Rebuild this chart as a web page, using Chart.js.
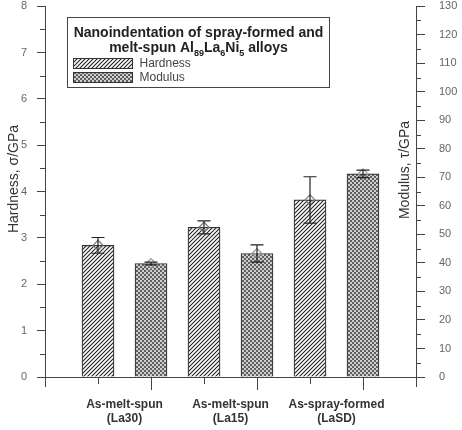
<!DOCTYPE html>
<html>
<head>
<meta charset="utf-8">
<script src="https://cdn.jsdelivr.net/npm/chart.js@4.4.1/dist/chart.umd.min.js"></script>
<style>
  html, body { margin: 0; padding: 0; background: #fff; }
  #wrap { width: 462px; height: 430px; }
</style>
</head>
<body>
<div id="wrap"><canvas id="chart" width="462" height="430"></canvas></div>
<script>
// data
const groups = [['As-melt-spun', '(La30)'], ['As-melt-spun', '(La15)'], ['As-spray-formed', '(LaSD)']];
const groupPos = [1.5, 3.5, 5.5];
const hardnessPos = [1, 3, 5];
const modulusPos = [2, 4, 6];
const hardness = [2.84, 3.23, 3.82];
const hardnessErr = [0.17, 0.14, 0.5];
const modulus = [39.8, 43.3, 71.2];
const modulusErr = [0.5, 3.0, 1.3];

const FONT = "'Liberation Sans', Arial, sans-serif";

function hatchPattern() {
    const c = document.createElement('canvas');
    c.width = 4; c.height = 4;
    const g = c.getContext('2d');
    g.fillStyle = '#fff';
    g.fillRect(0, 0, 4, 4);
    g.strokeStyle = '#222';
    g.lineWidth = 1.1;
    g.beginPath();
    g.moveTo(-1, 5); g.lineTo(5, -1);
    g.moveTo(-1, 1); g.lineTo(1, -1);
    g.moveTo(3, 5); g.lineTo(5, 3);
    g.stroke();
    return g.createPattern(c, 'repeat');
}

function checkPattern() {
    const c = document.createElement('canvas');
    c.width = 4; c.height = 4;
    const g = c.getContext('2d');
    g.fillStyle = '#5e5e5e';
    g.fillRect(0, 0, 4, 4);
    g.fillStyle = '#cfcfcf';
    g.fillRect(0, 0, 2, 2);
    g.fillRect(2, 2, 2, 2);
    return g.createPattern(c, 'repeat');
}

const hatch = hatchPattern();
const check = checkPattern();

const toPts = (xs, ys) => xs.map((x, i) => ({ x: x, y: ys[i] }));

// keep the plot area tight: label padding must not push the top down
function fitY(width) {
    return s => {
        s.width = width;
        s.paddingTop = 6;
        s.paddingBottom = 6;
    };
}

// error bars, minor ticks, x tick marks, axis titles and legend box
const extras = {
    id: 'extras',
    afterDatasetsDraw(chart) {
        const ctx = chart.ctx;
        const x = chart.scales.x, y = chart.scales.y, y2 = chart.scales.y2;
        const area = chart.chartArea;
        ctx.save();
        ctx.strokeStyle = '#222';
        ctx.lineWidth = 1.2;

        function errBar(px, scale, v, e) {
            const top = scale.getPixelForValue(v + e);
            const bot = scale.getPixelForValue(v - e);
            ctx.beginPath();
            ctx.moveTo(px, top); ctx.lineTo(px, bot);
            ctx.moveTo(px - 6.5, top); ctx.lineTo(px + 6.5, top);
            ctx.moveTo(px - 6.5, bot); ctx.lineTo(px + 6.5, bot);
            ctx.stroke();
        }
        hardness.forEach((v, i) => errBar(x.getPixelForValue(hardnessPos[i]), y, v, hardnessErr[i]));
        modulus.forEach((v, i) => errBar(x.getPixelForValue(modulusPos[i]), y2, v, modulusErr[i]));

        // x tick marks under each bar
        ctx.strokeStyle = '#444';
        ctx.lineWidth = 1;
        ctx.beginPath();
        hardnessPos.forEach(p => {
            const px = Math.round(x.getPixelForValue(p)) + 0.5;
            ctx.moveTo(px, area.bottom); ctx.lineTo(px, area.bottom + 7);
        });
        modulusPos.forEach(p => {
            const px = Math.round(x.getPixelForValue(p)) + 0.5;
            ctx.moveTo(px, area.bottom); ctx.lineTo(px, area.bottom + 13);
        });
        // minor ticks
        for (let v = 0.5; v < 8; v += 1) {
            const py = Math.round(y.getPixelForValue(v)) + 0.5;
            ctx.moveTo(area.left, py); ctx.lineTo(area.left - 5, py);
        }
        for (let v = 5; v < 130; v += 10) {
            const py = Math.round(y2.getPixelForValue(v)) + 0.5;
            ctx.moveTo(area.right, py); ctx.lineTo(area.right + 5, py);
        }
        // vertical axes run a little below the x axis
        ctx.moveTo(Math.round(area.left) + 0.5, area.bottom);
        ctx.lineTo(Math.round(area.left) + 0.5, area.bottom + 10);
        ctx.moveTo(Math.round(area.right) + 0.5, area.bottom);
        ctx.lineTo(Math.round(area.right) + 0.5, area.bottom + 10);
        ctx.stroke();

        // axis titles
        ctx.fillStyle = '#333';
        ctx.font = '14px ' + FONT;
        ctx.textAlign = 'center';
        ctx.textBaseline = 'middle';
        ctx.save();
        ctx.translate(14, 179);
        ctx.rotate(-Math.PI / 2);
        ctx.fillText('Hardness, σ/GPa', 0, 0);
        ctx.restore();
        ctx.save();
        ctx.translate(405, 170);
        ctx.rotate(-Math.PI / 2);
        ctx.fillText('Modulus, τ/GPa', 0, 0);
        ctx.restore();

        // legend box
        const bx = 67.5, by = 17.5, bw = 262, bh = 70;
        ctx.fillStyle = '#fff';
        ctx.fillRect(bx, by, bw, bh);
        ctx.strokeStyle = '#444';
        ctx.lineWidth = 1;
        ctx.strokeRect(bx, by, bw, bh);

        ctx.fillStyle = '#222';
        ctx.textBaseline = 'alphabetic';
        ctx.font = 'bold 14px ' + FONT;
        ctx.fillText('Nanoindentation of spray-formed and', bx + bw / 2, by + 19);
        // second line with subscripts
        const parts = [['melt-spun Al', false], ['89', true], ['La', false], ['6', true], ['Ni', false], ['5', true], [' alloys', false]];
        const big = 'bold 14px ' + FONT, small = 'bold 9px ' + FONT;
        let total = 0;
        parts.forEach(p => { ctx.font = p[1] ? small : big; total += ctx.measureText(p[0]).width; });
        let cx = bx + bw / 2 - total / 2;
        ctx.textAlign = 'left';
        parts.forEach(p => {
            ctx.font = p[1] ? small : big;
            ctx.fillText(p[0], cx, by + 34 + (p[1] ? 4 : 0));
            cx += ctx.measureText(p[0]).width;
        });

        // entries
        const ds = chart.data.datasets;
        [[ds[0], by + 41], [ds[1], by + 55]].forEach(([d, ty]) => {
            ctx.fillStyle = d.backgroundColor;
            ctx.fillRect(bx + 6, ty, 59, 10);
            ctx.strokeStyle = '#333';
            ctx.strokeRect(bx + 6, ty, 59, 10);
            ctx.fillStyle = '#444';
            ctx.font = '12px ' + FONT;
            ctx.textBaseline = 'middle';
            ctx.fillText(d.label, bx + 72, ty + 5.5);
            ctx.textBaseline = 'alphabetic';
        });
        ctx.restore();
    }
};

new Chart(document.getElementById('chart'), {
    type: 'bar',
    data: {
        datasets: [
            {
                label: 'Hardness',
                data: toPts(hardnessPos, hardness),
                yAxisID: 'y',
                backgroundColor: hatch,
                borderColor: '#333',
                borderWidth: 1.2,
                barThickness: 32,
                grouped: false,
                order: 2
            },
            {
                label: 'Modulus',
                data: toPts(modulusPos, modulus),
                yAxisID: 'y2',
                backgroundColor: check,
                borderColor: '#333',
                borderWidth: 1.2,
                barThickness: 32,
                grouped: false,
                order: 2
            },
            {
                type: 'line',
                label: 'hardness mean',
                data: toPts(hardnessPos, hardness),
                yAxisID: 'y',
                showLine: false,
                pointStyle: 'rectRot',
                pointRadius: 5,
                pointBackgroundColor: 'rgba(255,255,255,0)',
                pointBorderColor: '#777',
                pointBorderWidth: 1.2,
                order: 1
            },
            {
                type: 'line',
                label: 'modulus mean',
                data: toPts(modulusPos, modulus),
                yAxisID: 'y2',
                showLine: false,
                pointStyle: 'rectRot',
                pointRadius: 5,
                pointBackgroundColor: 'rgba(255,255,255,0)',
                pointBorderColor: '#999',
                pointBorderWidth: 1.2,
                order: 1
            }
        ]
    },
    options: {
        responsive: false,
        animation: false,
        layout: { padding: { top: 0, left: 0, right: 0, bottom: 0 } },
        plugins: {
            legend: { display: false },
            tooltip: { enabled: false }
        },
        scales: {
            x: {
                type: 'linear',
                min: 0,
                max: 7,
                offset: false,
                afterBuildTicks: s => { s.ticks = groupPos.map(v => ({ value: v })); },
                afterFit: s => { s.height = 53; s.paddingLeft = 0; s.paddingRight = 0; },
                grid: { display: false, drawTicks: false, offset: false },
                border: { display: true, color: '#444', width: 1 },
                ticks: {
                    padding: 20,
                    color: '#333',
                    maxRotation: 0,
                    autoSkip: false,
                    font: { family: FONT, size: 12, weight: 'bold' },
                    callback: (v, i) => groups[i]
                }
            },
            y: {
                position: 'left',
                min: 0,
                max: 8,
                afterFit: fitY(45),
                grid: { drawOnChartArea: false, tickLength: 8, color: '#444' },
                border: { display: true, color: '#444', width: 1 },
                ticks: {
                    stepSize: 1,
                    padding: 10,
                    color: '#666',
                    font: { family: FONT, size: 11 }
                }
            },
            y2: {
                position: 'right',
                min: 0,
                max: 130,
                afterFit: fitY(46),
                grid: { drawOnChartArea: false, tickLength: 9, color: '#444' },
                border: { display: true, color: '#444', width: 1 },
                ticks: {
                    stepSize: 10,
                    padding: 14,
                    color: '#666',
                    font: { family: FONT, size: 11 }
                }
            }
        }
    },
    plugins: [extras]
});
</script>
</body>
</html>
